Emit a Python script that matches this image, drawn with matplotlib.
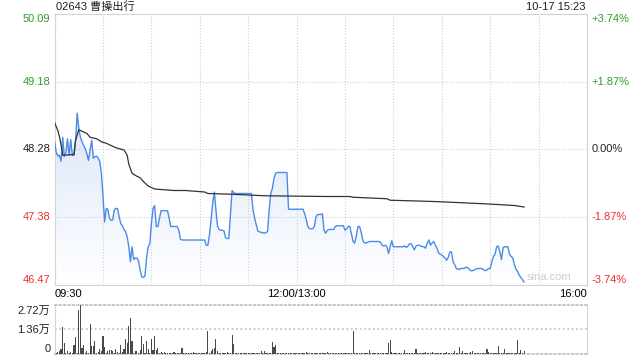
import numpy as np
import matplotlib
matplotlib.use("Agg")
import matplotlib.pyplot as plt
from matplotlib.colors import LinearSegmentedColormap

plt.rcParams['font.family'] = ['Liberation Sans', 'Noto Sans CJK SC', 'DejaVu Sans']

titulo = "02643 曹操出行"
data_hora = "10-17 15:23"
fechamento_anterior = 48.28

# precos por minuto (a partir das 09:30, pausa do almoco removida)
precos = [
    48.38, 48.24, 48.19, 48.20, 48.12, 48.44, 48.18, 48.24, 48.42, 48.20,
    48.41, 48.20, 48.20, 48.40, 48.76, 48.56, 48.44, 48.38, 48.33, 48.29,
    48.22, 48.13, 48.27, 48.40, 48.16, 48.18, 48.19, 48.16, 48.12, 47.96,
    47.65, 47.31, 47.49, 47.48, 47.36, 47.33, 47.34, 47.47, 47.49, 47.49,
    47.38, 47.29, 47.26, 47.21, 47.18, 47.11, 46.98, 46.78, 46.98, 46.81,
    46.83, 46.83, 46.79, 46.67, 46.58, 46.57, 46.59, 46.83, 46.98, 47.02,
    47.29, 47.49, 47.53, 47.25, 47.25, 47.36, 47.46, 47.46, 47.46, 47.46,
    47.46, 47.36, 47.25, 47.25, 47.25, 47.25, 47.25, 47.20, 47.08, 47.07,
    47.07, 47.07, 47.07, 47.07, 47.07, 47.07, 47.07, 47.07, 47.07, 47.07,
    47.07, 47.07, 47.07, 47.07, 47.00, 47.00, 47.14, 47.34, 47.56, 47.71,
    47.47, 47.25, 47.21, 47.20, 47.20, 47.19, 47.10, 47.09, 47.09, 47.42,
    47.73, 47.70, 47.69, 47.69, 47.69, 47.69, 47.69, 47.69, 47.69, 47.69,
    47.69, 47.69, 47.69, 47.47, 47.36, 47.27, 47.19, 47.18, 47.17, 47.17,
    47.16, 47.17, 47.18, 47.47, 47.69, 47.76, 47.89, 47.96, 47.97, 47.97,
    47.97, 47.97, 47.97, 47.97, 47.97, 47.48, 47.48, 47.48, 47.48, 47.48,
    47.48, 47.48, 47.48, 47.48, 47.48, 47.42, 47.34, 47.25, 47.22, 47.22,
    47.22, 47.25, 47.38, 47.41, 47.41, 47.41, 47.42, 47.20, 47.16, 47.20,
    47.21, 47.21, 47.21, 47.21, 47.25, 47.26, 47.26, 47.26, 47.26, 47.26,
    47.20, 47.22, 47.25, 47.25, 47.15, 47.05, 47.03, 47.12, 47.25, 47.25,
    47.18, 47.07, 47.03, 47.03, 47.04, 47.05, 47.05, 47.05, 47.05, 47.05,
    47.05, 47.05, 47.04, 47.00, 46.99, 47.00, 46.98, 46.89, 46.98, 47.06,
    46.98, 46.98, 46.98, 46.98, 46.98, 46.98, 46.98, 46.99, 46.97, 46.99,
    47.02, 47.02, 46.98, 46.94, 46.99, 47.00, 47.00, 46.99, 46.98, 46.98,
    46.96, 47.03, 47.07, 47.00, 47.03, 47.05, 47.00, 46.96, 46.90, 46.88,
    46.87, 46.85, 46.83, 46.80, 46.84, 46.91, 46.91, 46.78, 46.74, 46.69,
    46.68, 46.68, 46.69, 46.69, 46.69, 46.71, 46.70, 46.68, 46.66, 46.66,
    46.67, 46.68, 46.69, 46.69, 46.69, 46.69, 46.67, 46.66, 46.67, 46.69,
    46.69, 46.78, 46.85, 46.88, 46.98, 46.99, 46.91, 46.81, 46.97, 46.98,
    46.98, 46.98, 46.88, 46.85, 46.83, 46.74, 46.68, 46.65, 46.60, 46.57,
    46.54, 46.51,
]

minutos_media = [0, 1, 2, 3, 4, 5, 12, 13, 15, 17, 20, 22, 26, 29, 32, 38, 43, 45,
                 46, 48, 51, 53, 55, 58, 62, 74, 81, 93, 95, 110, 130, 168, 183,
                 185, 206, 208, 225, 239, 269, 285, 291]
precos_media = [48.64, 48.58, 48.53, 48.45, 48.34, 48.20, 48.21, 48.40, 48.54, 48.52,
                48.49, 48.44, 48.42, 48.38, 48.36, 48.30, 48.27, 48.20, 48.08, 47.96,
                47.92, 47.90, 47.85, 47.79, 47.75, 47.73, 47.73, 47.71, 47.69, 47.68,
                47.66, 47.65, 47.65, 47.64, 47.62, 47.60, 47.59, 47.58, 47.55, 47.53,
                47.51]

# volume por minuto (em 万)
volumes = [
    0.42, 0.05, 0.09, 0.14, 0.27, 1.50, 0.63, 0.04, 0.14, 0.05,
    0.09, 0.04, 0.51, 0.96, 0.05, 2.41, 2.72, 0.33, 0.51, 0.04,
    0.14, 0.05, 1.65, 0.45, 0.42, 0.73, 0.04, 0.09, 0.27, 0.18,
    1.00, 0.38, 0.05, 0.14, 0.20, 0.20, 0.14, 0.05, 0.27, 0.09,
    0.04, 0.51, 0.13, 0.27, 0.83, 0.63, 1.54, 1.96, 0.69, 0.05,
    0.18, 0.18, 0.05, 0.24, 1.00, 0.56, 0.04, 0.74, 0.27, 0.05,
    0.83, 0.24, 1.00, 0.24, 0.33, 0.05, 0.09, 0.04, 0.09, 0.05,
    0.04, 0.07, 0.05, 0.04, 0.09, 0.05, 0.04, 0.05, 0.07, 0.33,
    0.05, 0.04, 0.05, 0.07, 0.04, 0.05, 0.09, 0.04, 0.05, 0.04,
    0.07, 0.05, 0.04, 0.05, 0.09, 1.27, 0.05, 0.14, 0.27, 0.33,
    0.83, 0.14, 0.05, 0.04, 0.07, 0.05, 0.04, 0.10, 0.05, 0.04,
    1.05, 0.56, 0.05, 0.04, 0.05, 0.04, 0.07, 0.04, 0.05, 0.04,
    0.05, 0.04, 0.05, 0.04, 0.07, 0.04, 0.05, 0.04, 0.18, 0.05,
    0.14, 0.04, 0.05, 0.04, 0.07, 0.67, 0.38, 0.47, 0.05, 0.04,
    0.05, 0.04, 0.04, 0.05, 0.04, 0.05, 0.04, 0.04, 0.05, 0.04,
    0.04, 0.05, 0.04, 0.04, 0.05, 0.04, 0.09, 0.04, 0.05, 0.04,
    0.04, 0.05, 0.04, 0.04, 0.05, 0.04, 0.04, 0.05, 0.04, 0.11,
    0.04, 0.05, 0.04, 0.04, 0.05, 0.04, 0.04, 0.05, 0.04, 0.04,
    0.05, 0.04, 0.04, 0.05, 0.04, 1.27, 0.05, 0.04, 0.04, 0.05,
    0.04, 0.04, 0.05, 0.04, 0.04, 0.24, 0.04, 0.05, 0.04, 0.04,
    0.05, 0.04, 0.04, 0.05, 0.04, 0.04, 0.05, 0.63, 0.78, 0.11,
    0.05, 0.04, 0.04, 0.05, 0.04, 0.04, 0.05, 0.24, 0.04, 0.04,
    0.05, 0.04, 0.04, 0.05, 0.27, 0.04, 0.05, 0.04, 0.04, 0.05,
    0.11, 0.04, 0.05, 0.04, 0.11, 0.04, 0.05, 0.04, 0.04, 0.05,
    0.04, 0.05, 0.04, 0.09, 0.04, 0.05, 0.04, 0.04, 0.14, 0.04,
    0.05, 0.38, 0.04, 0.14, 0.05, 0.04, 0.04, 0.05, 0.11, 0.14,
    0.04, 0.05, 0.04, 0.04, 0.05, 0.04, 0.04, 0.05, 0.29, 0.13,
    0.04, 0.05, 0.04, 0.04, 0.05, 0.45, 0.04, 0.04, 0.05, 0.29,
    0.04, 0.05, 0.04, 0.04, 0.05, 0.04, 0.04, 0.78, 0.05, 0.20,
    0.04, 0.18,
]

niveis_preco = [50.09, 49.18, 48.28, 47.38, 46.47]
rotulos_pct = ["+3.74%", "+1.87%", "0.00%", "-1.87%", "-3.74%"]
rotulos_volume = ["2.72万", "1.36万", "0"]
rotulos_tempo = ["09:30", "12:00/13:00", "16:00"]
total_minutos = 330

verde = '#2a9d2a'
vermelho = '#e8322e'
cinza_borda = '#d4d4d4'
cores_niveis = [verde, verde, '#222222', vermelho, vermelho]

minutos = np.arange(len(precos))
ymin, ymax = niveis_preco[-1], niveis_preco[0]

fig = plt.figure(figsize=(6.4, 3.6), dpi=100)
ax = fig.add_axes([54.6 / 640, 1 - 285 / 360, 532.4 / 640, 271.5 / 360])
axv = fig.add_axes([54.6 / 640, 1 - 354 / 360, 532.4 / 640, 49.5 / 360])

# area sob a linha de preco com degrade
area = ax.fill_between(minutos, precos, ymin, facecolor='none', edgecolor='none')
degrade = np.linspace(1, 0, 256).reshape(-1, 1)
cmap = LinearSegmentedColormap.from_list('azul', ['#ffffff', '#dce7f9'])
img = ax.imshow(degrade, extent=[0, total_minutos, ymin, 48.8], aspect='auto',
                cmap=cmap, origin='upper', zorder=1)
img.set_clip_path(area.get_paths()[0], transform=ax.transData)

ax.plot(minutos, precos, color='#4b8be8', linewidth=1.0, zorder=3)
ax.plot(minutos_media, precos_media, color='#333333', linewidth=0.9, zorder=4)

ax.set_xlim(0, total_minutos)
ax.set_ylim(ymin, ymax)
ax.set_xticks(range(0, total_minutos + 1, 30))
ax.set_yticks(niveis_preco[1:-1])
ax.grid(True, color='#cfcfcf', linestyle=':', linewidth=0.8)
ax.tick_params(length=0, labelleft=False, labelbottom=False)
for s in ax.spines.values():
    s.set_color(cinza_borda)

# rotulos de preco e porcentagem
for i, (nivel, pct, cor) in enumerate(zip(niveis_preco, rotulos_pct, cores_niveis)):
    va = 'top' if i == 0 else ('bottom' if i == len(niveis_preco) - 1 else 'center')
    ax.text(-0.008, nivel, f"{nivel:.2f}", transform=ax.get_yaxis_transform(),
            ha='right', va=va, color=cor, fontsize=8)
    ax.text(1.008, nivel, pct, transform=ax.get_yaxis_transform(),
            ha='left', va=va, color=cor, fontsize=8)

# cabecalho (y em pixels -> fracao do eixo)
y_cab = (285 - 7) / 271.5
ax.text(0.003, y_cab, titulo, transform=ax.transAxes, ha='left', va='center',
        fontsize=8, color='#222222')
ax.text(0.997, y_cab, data_hora, transform=ax.transAxes, ha='right', va='center',
        fontsize=8, color='#222222')
ax.text(0.97, 0.01, "sina.com", transform=ax.transAxes, ha='right', va='bottom',
        fontsize=8, color='#cccccc')

ax.text(0.0, -0.015, rotulos_tempo[0], transform=ax.transAxes, ha='left', va='top', fontsize=8)
ax.text(150 / total_minutos, -0.015, rotulos_tempo[1], transform=ax.transAxes,
        ha='center', va='top', fontsize=8)
ax.text(1.0, -0.015, rotulos_tempo[2], transform=ax.transAxes, ha='right', va='top', fontsize=8)

# volume
axv.bar(np.arange(len(volumes)), volumes, width=0.7, color='#4a4a4a', zorder=3)
axv.set_xlim(0, total_minutos)
axv.set_ylim(0, 2.72)
axv.set_yticks([1.36])
axv.set_xticks([])
axv.grid(True, axis='y', color='#bdbdbd', linestyle=':', linewidth=1.2)
axv.tick_params(length=0, labelleft=False)
for lado in ['left', 'right']:
    axv.spines[lado].set_color(cinza_borda)
for lado in ['top', 'bottom']:
    axv.spines[lado].set_color('#bdbdbd')
    axv.spines[lado].set_linestyle(':')
    axv.spines[lado].set_linewidth(1.2)

for frac, rot in zip([0.87, 0.485, 0.10], rotulos_volume):
    axv.text(-0.008, frac, rot, transform=axv.transAxes, ha='right', va='center',
             fontsize=8, color='#222222')

fig.savefig("out.png", dpi=100)
